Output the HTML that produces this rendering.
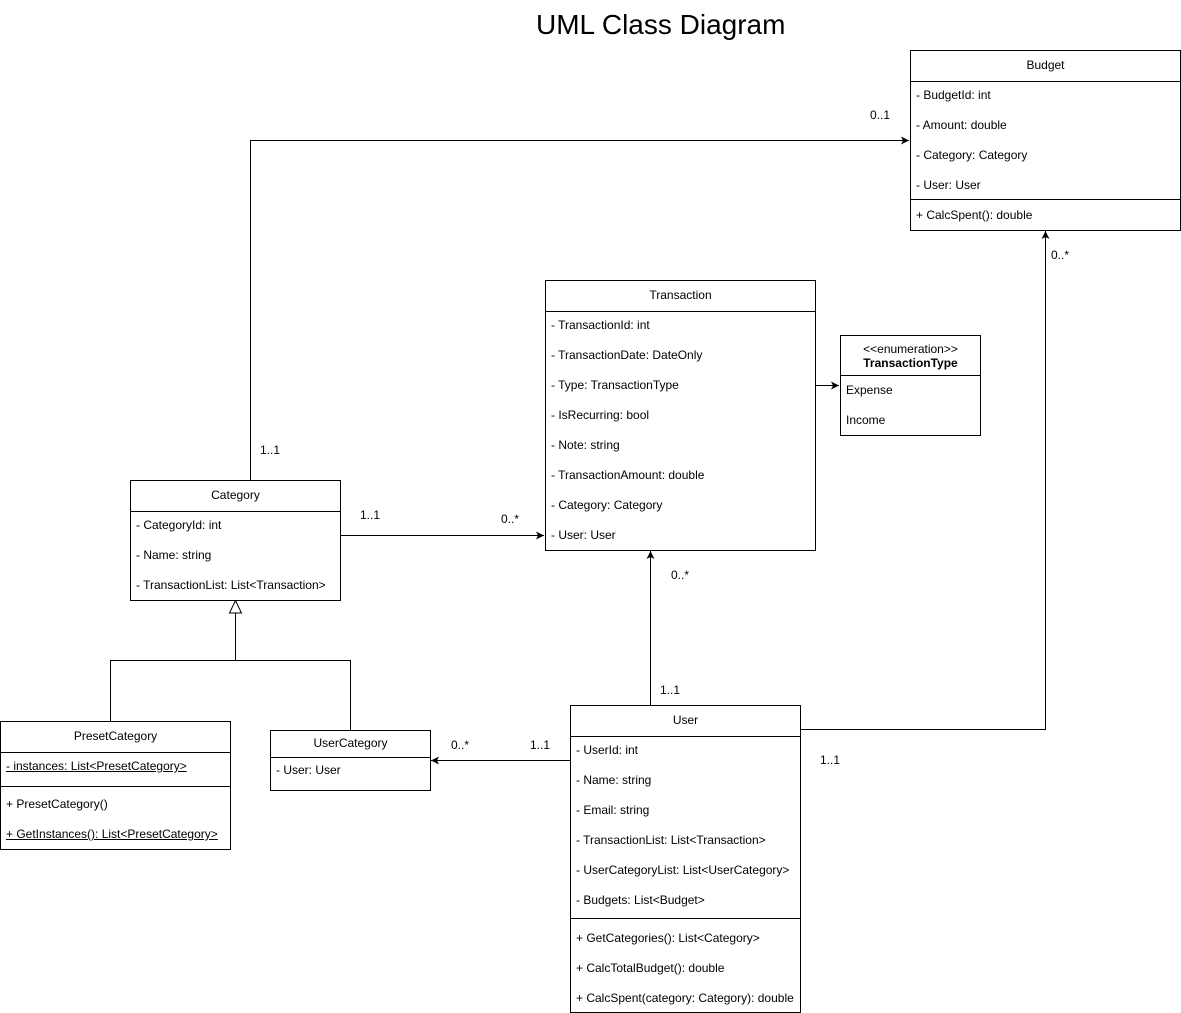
<!DOCTYPE html>
<html><head><meta charset="utf-8"><style>
body{margin:0;background:#fff;width:1181px;height:1013px;position:relative;overflow:hidden;font-family:"Liberation Sans",Arial,sans-serif;font-size:12px;color:#000}
.b{position:absolute;border:1px solid #000;box-sizing:border-box;background:#fff}
.h{position:absolute;left:0;right:0;text-align:center;border-bottom:1px solid #000;box-sizing:border-box}
.t{position:absolute;left:5px;white-space:nowrap;line-height:14px}
.d{position:absolute;left:0;right:0;border-top:1px solid #000}
.l{position:absolute;white-space:nowrap;line-height:14px}
u{text-decoration:underline}
</style></head><body>
<div class="l" style="left:536px;top:8px;font-size:28px;line-height:34px">UML Class Diagram</div>

<svg width="1181" height="1013" style="position:absolute;left:0;top:0">
<defs><marker id="a" markerWidth="10" markerHeight="10" refX="9" refY="5" orient="auto" markerUnits="userSpaceOnUse"><path d="M1,1 L9,5 L1,9 L3,5 Z" fill="#000"/></marker></defs>
<g stroke="#000" fill="none" stroke-width="1">
<path d="M250.5,480 V140.5 H909" marker-end="url(#a)"/>
<path d="M340,535.5 H544" marker-end="url(#a)"/>
<path d="M815,385.5 H839" marker-end="url(#a)"/>
<path d="M650.5,705 V551" marker-end="url(#a)"/>
<path d="M800,729.5 H1045.5 V231" marker-end="url(#a)"/>
<path d="M570,760.5 H431" marker-end="url(#a)"/>
<path d="M235.5,613 V660.5 M110.5,721 V660.5 H350.5 V730"/>
<path d="M235.5,600.5 L229.5,613 H241.5 Z" fill="#fff"/>
</g></svg>

<div class="l" style="left:870px;top:108px">0..1</div>
<div class="l" style="left:260px;top:443px">1..1</div>
<div class="l" style="left:360px;top:508px">1..1</div>
<div class="l" style="left:501px;top:512px">0..*</div>
<div class="l" style="left:671px;top:568px">0..*</div>
<div class="l" style="left:660px;top:683px">1..1</div>
<div class="l" style="left:1051px;top:248px">0..*</div>
<div class="l" style="left:820px;top:753px">1..1</div>
<div class="l" style="left:451px;top:738px">0..*</div>
<div class="l" style="left:530px;top:738px">1..1</div>

<div class="b" style="left:910px;top:50px;width:271px;height:181px">
<div class="h" style="top:0;height:31px;line-height:29px">Budget</div>
<div class="t" style="top:37px">- BudgetId: int</div>
<div class="t" style="top:67px">- Amount: double</div>
<div class="t" style="top:97px">- Category: Category</div>
<div class="t" style="top:127px">- User: User</div>
<div class="d" style="top:148px"></div>
<div class="t" style="top:157px">+ CalcSpent(): double</div>
</div>

<div class="b" style="left:545px;top:280px;width:271px;height:271px">
<div class="h" style="top:0;height:31px;line-height:29px">Transaction</div>
<div class="t" style="top:37px">- TransactionId: int</div>
<div class="t" style="top:67px">- TransactionDate: DateOnly</div>
<div class="t" style="top:97px">- Type: TransactionType</div>
<div class="t" style="top:127px">- IsRecurring: bool</div>
<div class="t" style="top:157px">- Note: string</div>
<div class="t" style="top:187px">- TransactionAmount: double</div>
<div class="t" style="top:217px">- Category: Category</div>
<div class="t" style="top:247px">- User: User</div>
</div>

<div class="b" style="left:840px;top:335px;width:141px;height:101px">
<div class="h" style="top:0;height:40px;line-height:14px;padding-top:6px">&lt;&lt;enumeration&gt;&gt;<br><b>TransactionType</b></div>
<div class="t" style="top:47px">Expense</div>
<div class="t" style="top:77px">Income</div>
</div>

<div class="b" style="left:130px;top:480px;width:211px;height:121px">
<div class="h" style="top:0;height:31px;line-height:29px">Category</div>
<div class="t" style="top:37px">- CategoryId: int</div>
<div class="t" style="top:67px">- Name: string</div>
<div class="t" style="top:97px">- TransactionList: List&lt;Transaction&gt;</div>
</div>

<div class="b" style="left:0;top:721px;width:231px;height:129px">
<div class="h" style="top:0;height:31px;line-height:29px">PresetCategory</div>
<div class="t" style="top:37px"><u>- instances: List&lt;PresetCategory&gt;</u></div>
<div class="d" style="top:64px"></div>
<div class="t" style="top:75px">+ PresetCategory()</div>
<div class="t" style="top:105px"><u>+ GetInstances(): List&lt;PresetCategory&gt;</u></div>
</div>

<div class="b" style="left:270px;top:730px;width:161px;height:61px">
<div class="h" style="top:0;height:27px;line-height:25px">UserCategory</div>
<div class="t" style="top:32px">- User: User</div>
</div>

<div class="b" style="left:570px;top:705px;width:231px;height:308px">
<div class="h" style="top:0;height:31px;line-height:29px">User</div>
<div class="t" style="top:37px">- UserId: int</div>
<div class="t" style="top:67px">- Name: string</div>
<div class="t" style="top:97px">- Email: string</div>
<div class="t" style="top:127px">- TransactionList: List&lt;Transaction&gt;</div>
<div class="t" style="top:157px">- UserCategoryList: List&lt;UserCategory&gt;</div>
<div class="t" style="top:187px">- Budgets: List&lt;Budget&gt;</div>
<div class="d" style="top:212px"></div>
<div class="t" style="top:225px">+ GetCategories(): List&lt;Category&gt;</div>
<div class="t" style="top:255px">+ CalcTotalBudget(): double</div>
<div class="t" style="top:285px">+ CalcSpent(category: Category): double</div>
</div>
</body></html>
